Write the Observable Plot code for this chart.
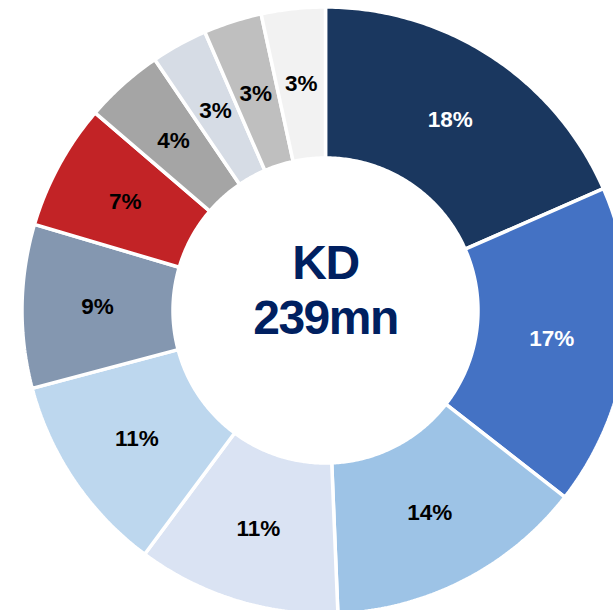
<!DOCTYPE html>
<html><head><meta charset="utf-8">
<script src="https://cdn.jsdelivr.net/npm/d3@7"></script>
<script src="https://cdn.jsdelivr.net/npm/@observablehq/plot@0.6"></script>
<style>html,body{margin:0;padding:0;background:#fff;overflow:hidden}</style>
</head><body><div id="chart"></div>
<script>
// ---- data ----
const segments = ["Segment 1","Segment 2","Segment 3","Segment 4","Segment 5","Segment 6","Segment 7","Segment 8","Segment 9","Segment 10","Segment 11"];
const shares = [18.4, 17.1, 13.8, 10.8, 10.7, 8.7, 6.7, 4.2, 3.0, 3.1, 3.4];
const shareLabels = ["18%","17%","14%","11%","11%","9%","7%","4%","3%","3%","3%"];
const centerLines = ["KD", "239mn"];

// ---- styling ----
const sliceColors = ["#1A375F","#4472C4","#9DC3E6","#DAE3F3","#BDD7EE","#8497B0","#C22326","#A5A5A5","#D6DCE5","#BFBFBF","#F2F2F2"];
const labelInk = ["#ffffff","#ffffff","#000000","#000000","#000000","#000000","#000000","#000000","#000000","#000000","#000000"];
const W = 613, H = 610, CX = 325, CY = 310, R_OUT = 303.5, R_IN = 152.5;
const FONT = "'Liberation Sans', Arial, Helvetica, sans-serif";

const arcs = d3.pie().sort(null).value(d => d)(shares);
const rows = segments.map((s, i) => ({
  segment: s, share: shares[i], label: shareLabels[i],
  color: sliceColors[i], ink: labelInk[i],
  a0: arcs[i].startAngle, a1: arcs[i].endAngle
}));
const pt = (r, a) => ({x: r * Math.sin(a), y: r * Math.cos(a)});

const outline = rows.flatMap(d => {
  const n = Math.max(8, Math.ceil((d.a1 - d.a0) * 90));
  const pts = [];
  for (let k = 0; k <= n; k++) pts.push({...pt(R_OUT, d.a0 + (d.a1 - d.a0) * k / n), segment: d.segment, color: d.color});
  for (let k = n; k >= 0; k--) pts.push({...pt(R_IN, d.a0 + (d.a1 - d.a0) * k / n), segment: d.segment, color: d.color});
  pts.push({...pts[0]});
  return pts;
});

const labelPos = rows.map(d => ({...d, ...pt((R_OUT + R_IN) / 2, (d.a0 + d.a1) / 2)}));

const chart = Plot.plot({
  width: W, height: H,
  margin: 0,
  style: {fontFamily: FONT, background: "#fff"},
  x: {axis: null, domain: [-CX, W - CX]},
  y: {axis: null, domain: [-(H - CY), CY]},
  color: {type: "identity"},
  marks: [
    Plot.line(outline, {x: "x", y: "y", z: "segment", fill: "color", stroke: "white", strokeWidth: 3.5, strokeLinejoin: "miter", curve: "linear"}),
    Plot.text(labelPos, {x: "x", y: "y", text: "label", fill: "ink", fontSize: 22.5, fontWeight: "bold", fontFamily: FONT}),
    Plot.text([centerLines.join("\n")], {x: () => 0, y: () => 0, text: d => d, fill: "#002060", fontSize: 48, fontWeight: "bold", fontFamily: FONT, lineAnchor: "bottom", lineHeight: 1.146, dy: 23})
  ]
});
const textGroups = chart.querySelectorAll('g[aria-label="text"]');
const centerGroup = textGroups[textGroups.length - 1];
if (centerGroup) centerGroup.setAttribute("letter-spacing", "-1.5px");
document.getElementById("chart").appendChild(chart);
</script>
</body></html>
